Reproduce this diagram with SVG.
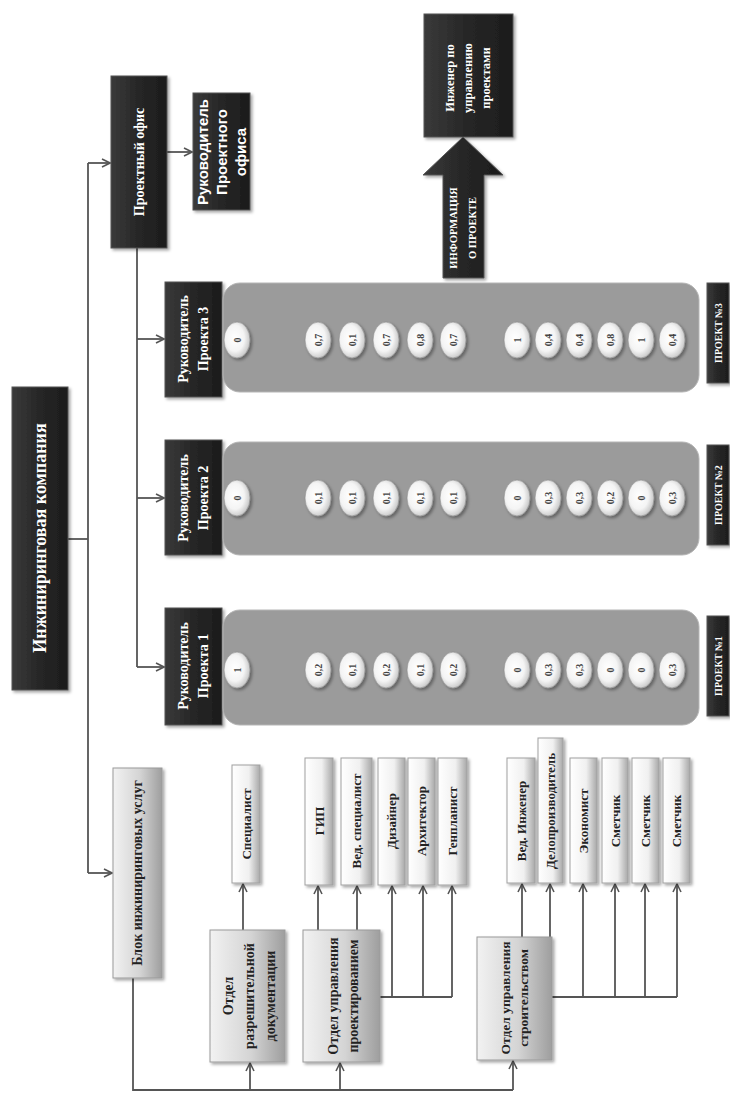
<svg xmlns="http://www.w3.org/2000/svg" width="730" height="1093" viewBox="0 0 730 1093">
<style>
.dark{fill:url(#gDark);stroke:#555;stroke-width:1}
.light{fill:url(#gLight);stroke:#9a9a9a;stroke-width:1}
.bar{fill:url(#gBar);stroke:#a0a0a0;stroke-width:1}
.panel{fill:#9b9b9b;stroke:#b5b5b5;stroke-width:1}
.oval{fill:url(#gOval);stroke:#8a8a8a;stroke-width:0.6}
.tw{fill:#fff;font-family:"Liberation Serif",serif;font-weight:bold;text-anchor:middle}
.tb{fill:#222;font-family:"Liberation Serif",serif;font-weight:bold;text-anchor:middle}
.to{fill:#444;font-family:"Liberation Serif",serif;font-weight:bold;font-size:10px;text-anchor:middle}
.ts{fill:#fff;font-family:"Liberation Sans",Arial,sans-serif;font-weight:bold;text-anchor:middle}
.ln{fill:none;stroke:#555;stroke-width:1.8}
.ar{fill:none;stroke:#555;stroke-width:1.8;marker-end:url(#arr)}
</style>
<defs>
<linearGradient id="gDark" x1="0" y1="0" x2="1" y2="0">
<stop offset="0" stop-color="#3a3a3a"/><stop offset="0.5" stop-color="#262626"/><stop offset="1" stop-color="#1c1c1c"/>
</linearGradient>
<linearGradient id="gLight" x1="0" y1="0" x2="1" y2="0">
<stop offset="0" stop-color="#f2f2f2"/><stop offset="0.55" stop-color="#d4d4d4"/><stop offset="1" stop-color="#9e9e9e"/>
</linearGradient>
<linearGradient id="gBar" x1="0" y1="0" x2="1" y2="0">
<stop offset="0" stop-color="#ffffff"/><stop offset="0.6" stop-color="#f0f0f0"/><stop offset="1" stop-color="#a8a8a8"/>
</linearGradient>
<radialGradient id="gOval" cx="0.42" cy="0.45" r="0.6">
<stop offset="0" stop-color="#ffffff"/><stop offset="0.6" stop-color="#f4f4f4"/><stop offset="1" stop-color="#c4c4c4"/>
</radialGradient>
<filter id="sh" x="-20%" y="-20%" width="140%" height="140%">
<feDropShadow dx="2" dy="2" stdDeviation="1.5" flood-color="#000" flood-opacity="0.35"/>
</filter>
<marker id="arr" viewBox="0 0 10 10" refX="9" refY="5" markerWidth="10" markerHeight="10" markerUnits="userSpaceOnUse" orient="auto">
<path d="M1,1 L9,5 L1,9" fill="none" stroke="#555" stroke-width="1.6"/>
</marker>
</defs>

<g id="connectors">
<path class="ln" d="M68,539 H88"/>
<path class="ln" d="M88,163 V873"/>
<path class="ar" d="M88,163 H110"/>
<path class="ar" d="M88,873 H112"/>
<path class="ar" d="M167,152 H192"/>
<path class="ln" d="M137,248 V667"/>
<path class="ar" d="M137,339 H164"/>
<path class="ar" d="M137,498 H164"/>
<path class="ar" d="M137,667 H164"/>
<path class="ln" d="M133,978 V1090 H513"/>
<path class="ar" d="M250,1090 V1063"/>
<path class="ar" d="M340,1090 V1063"/>
<path class="ar" d="M513,1090 V1061"/>
<path class="ar" d="M243,930 V884"/>
<path class="ar" d="M318,930 V886"/>
<path class="ar" d="M357,930 V886"/>
<path class="ln" d="M380,997 H452"/>
<path class="ar" d="M392,997 V886"/>
<path class="ar" d="M423,997 V886"/>
<path class="ar" d="M452,997 V886"/>
<path class="ar" d="M522,937 V884"/>
<path class="ar" d="M550,937 V884"/>
<path class="ln" d="M552,997 H677"/>
<path class="ar" d="M583,997 V884"/>
<path class="ar" d="M615,997 V884"/>
<path class="ar" d="M645,997 V884"/>
<path class="ar" d="M677,997 V884"/>
</g>

<g id="n-company"><rect class="dark" filter="url(#sh)" x="12" y="387" width="56" height="303"/>
<text class="tw" font-size="18" transform="translate(40,538) rotate(-90)"><tspan x="0" y="6">Инжиниринговая компания</tspan></text></g>

<g id="n-office"><rect class="dark" filter="url(#sh)" x="111" y="76" width="56" height="172"/>
<text class="tw" font-size="14" transform="translate(139,162) rotate(-90)"><tspan x="0" y="5">Проектный офис</tspan></text></g>

<g id="n-office-head"><rect class="dark" filter="url(#sh)" x="193" y="93" width="57" height="117"/>
<text class="ts" font-size="15" transform="translate(222,152) rotate(-90)"><tspan x="0" y="-14">Руководитель</tspan><tspan x="0" y="5">Проектного</tspan><tspan x="0" y="24">офиса</tspan></text></g>

<g id="n-engineer"><rect class="dark" filter="url(#sh)" x="424" y="14" width="89" height="123"/>
<text class="tw" font-size="12.5" transform="translate(468,78) rotate(-90)"><tspan x="0" y="-14">Инженер по</tspan><tspan x="0" y="4">управлению</tspan><tspan x="0" y="22">проектами</tspan></text></g>

<g id="n-info"><polygon fill="url(#gDark)" stroke="#555" filter="url(#sh)" points="443,278 443,175 423,175 463,137 503,175 484,175 484,278"/>
<text class="tw" font-size="10.5" transform="translate(463,228) rotate(-90)"><tspan x="0" y="-6">ИНФОРМАЦИЯ</tspan><tspan x="0" y="13">О ПРОЕКТЕ</tspan></text></g>

<g id="n-pm3"><rect class="dark" filter="url(#sh)" x="165" y="282" width="57" height="115"/>
<text class="tw" font-size="14" transform="translate(193,339) rotate(-90)"><tspan x="0" y="-5">Руководитель</tspan><tspan x="0" y="15">Проекта 3</tspan></text></g>
<g id="n-pm2"><rect class="dark" filter="url(#sh)" x="165" y="440" width="57" height="115"/>
<text class="tw" font-size="14" transform="translate(193,498) rotate(-90)"><tspan x="0" y="-5">Руководитель</tspan><tspan x="0" y="15">Проекта 2</tspan></text></g>
<g id="n-pm1"><rect class="dark" filter="url(#sh)" x="165" y="608" width="57" height="117"/>
<text class="tw" font-size="14" transform="translate(193,666) rotate(-90)"><tspan x="0" y="-5">Руководитель</tspan><tspan x="0" y="15">Проекта 1</tspan></text></g>

<g id="n-panel3"><rect class="panel" x="223" y="283" width="476" height="109" rx="17"/></g>
<g id="n-panel2"><rect class="panel" x="223" y="442" width="476" height="113" rx="17"/></g>
<g id="n-panel1"><rect class="panel" x="223" y="610" width="476" height="115" rx="17"/></g>

<g id="n-p3-labels"><rect class="dark" filter="url(#sh)" x="707" y="283" width="22" height="100"/>
<text class="tw" font-size="10" transform="translate(718,333) rotate(-90)"><tspan x="0" y="4">ПРОЕКТ №3</tspan></text></g>
<g id="n-p2-labels"><rect class="dark" filter="url(#sh)" x="707" y="445" width="22" height="100"/>
<text class="tw" font-size="10" transform="translate(718,495) rotate(-90)"><tspan x="0" y="4">ПРОЕКТ №2</tspan></text></g>
<g id="n-p1-labels"><rect class="dark" filter="url(#sh)" x="707" y="616" width="22" height="100"/>
<text class="tw" font-size="10" transform="translate(718,666) rotate(-90)"><tspan x="0" y="4">ПРОЕКТ №1</tspan></text></g>

<g id="n-ovals3" filter="url(#sh)">
<ellipse class="oval" cx="237" cy="340" rx="13" ry="18"/><ellipse class="oval" cx="318" cy="340" rx="13" ry="18"/><ellipse class="oval" cx="352" cy="340" rx="13" ry="18"/><ellipse class="oval" cx="386" cy="340" rx="13" ry="18"/><ellipse class="oval" cx="420" cy="340" rx="13" ry="18"/><ellipse class="oval" cx="453" cy="340" rx="13" ry="18"/>
<ellipse class="oval" cx="517" cy="340" rx="13" ry="18"/><ellipse class="oval" cx="548" cy="340" rx="13" ry="18"/><ellipse class="oval" cx="579" cy="340" rx="13" ry="18"/><ellipse class="oval" cx="610" cy="340" rx="13" ry="18"/><ellipse class="oval" cx="641" cy="340" rx="13" ry="18"/><ellipse class="oval" cx="672" cy="340" rx="13" ry="18"/>
</g>
<g id="n-ovals3-text">
<text class="to" transform="translate(237,340) rotate(-90)" y="3.5">0</text><text class="to" transform="translate(318,340) rotate(-90)" y="3.5">0,7</text><text class="to" transform="translate(352,340) rotate(-90)" y="3.5">0,1</text><text class="to" transform="translate(386,340) rotate(-90)" y="3.5">0,7</text><text class="to" transform="translate(420,340) rotate(-90)" y="3.5">0,8</text><text class="to" transform="translate(453,340) rotate(-90)" y="3.5">0,7</text>
<text class="to" transform="translate(517,340) rotate(-90)" y="3.5">1</text><text class="to" transform="translate(548,340) rotate(-90)" y="3.5">0,4</text><text class="to" transform="translate(579,340) rotate(-90)" y="3.5">0,4</text><text class="to" transform="translate(610,340) rotate(-90)" y="3.5">0,8</text><text class="to" transform="translate(641,340) rotate(-90)" y="3.5">1</text><text class="to" transform="translate(672,340) rotate(-90)" y="3.5">0,4</text>
</g>

<g id="n-ovals2" filter="url(#sh)">
<ellipse class="oval" cx="237" cy="498" rx="13" ry="18"/><ellipse class="oval" cx="318" cy="498" rx="13" ry="18"/><ellipse class="oval" cx="352" cy="498" rx="13" ry="18"/><ellipse class="oval" cx="386" cy="498" rx="13" ry="18"/><ellipse class="oval" cx="420" cy="498" rx="13" ry="18"/><ellipse class="oval" cx="453" cy="498" rx="13" ry="18"/>
<ellipse class="oval" cx="517" cy="498" rx="13" ry="18"/><ellipse class="oval" cx="548" cy="498" rx="13" ry="18"/><ellipse class="oval" cx="579" cy="498" rx="13" ry="18"/><ellipse class="oval" cx="610" cy="498" rx="13" ry="18"/><ellipse class="oval" cx="641" cy="498" rx="13" ry="18"/><ellipse class="oval" cx="672" cy="498" rx="13" ry="18"/>
</g>
<g id="n-ovals2-text">
<text class="to" transform="translate(237,498) rotate(-90)" y="3.5">0</text><text class="to" transform="translate(318,498) rotate(-90)" y="3.5">0,1</text><text class="to" transform="translate(352,498) rotate(-90)" y="3.5">0,1</text><text class="to" transform="translate(386,498) rotate(-90)" y="3.5">0,1</text><text class="to" transform="translate(420,498) rotate(-90)" y="3.5">0,1</text><text class="to" transform="translate(453,498) rotate(-90)" y="3.5">0,1</text>
<text class="to" transform="translate(517,498) rotate(-90)" y="3.5">0</text><text class="to" transform="translate(548,498) rotate(-90)" y="3.5">0,3</text><text class="to" transform="translate(579,498) rotate(-90)" y="3.5">0,3</text><text class="to" transform="translate(610,498) rotate(-90)" y="3.5">0,2</text><text class="to" transform="translate(641,498) rotate(-90)" y="3.5">0</text><text class="to" transform="translate(672,498) rotate(-90)" y="3.5">0,3</text>
</g>

<g id="n-ovals1" filter="url(#sh)">
<ellipse class="oval" cx="237" cy="670" rx="13" ry="18"/><ellipse class="oval" cx="318" cy="670" rx="13" ry="18"/><ellipse class="oval" cx="352" cy="670" rx="13" ry="18"/><ellipse class="oval" cx="386" cy="670" rx="13" ry="18"/><ellipse class="oval" cx="420" cy="670" rx="13" ry="18"/><ellipse class="oval" cx="453" cy="670" rx="13" ry="18"/>
<ellipse class="oval" cx="517" cy="670" rx="13" ry="18"/><ellipse class="oval" cx="548" cy="670" rx="13" ry="18"/><ellipse class="oval" cx="579" cy="670" rx="13" ry="18"/><ellipse class="oval" cx="610" cy="670" rx="13" ry="18"/><ellipse class="oval" cx="641" cy="670" rx="13" ry="18"/><ellipse class="oval" cx="672" cy="670" rx="13" ry="18"/>
</g>
<g id="n-ovals1-text">
<text class="to" transform="translate(237,670) rotate(-90)" y="3.5">1</text><text class="to" transform="translate(318,670) rotate(-90)" y="3.5">0,2</text><text class="to" transform="translate(352,670) rotate(-90)" y="3.5">0,1</text><text class="to" transform="translate(386,670) rotate(-90)" y="3.5">0,2</text><text class="to" transform="translate(420,670) rotate(-90)" y="3.5">0,1</text><text class="to" transform="translate(453,670) rotate(-90)" y="3.5">0,2</text>
<text class="to" transform="translate(517,670) rotate(-90)" y="3.5">0</text><text class="to" transform="translate(548,670) rotate(-90)" y="3.5">0,3</text><text class="to" transform="translate(579,670) rotate(-90)" y="3.5">0,3</text><text class="to" transform="translate(610,670) rotate(-90)" y="3.5">0</text><text class="to" transform="translate(641,670) rotate(-90)" y="3.5">0</text><text class="to" transform="translate(672,670) rotate(-90)" y="3.5">0,3</text>
</g>

<g id="n-block"><rect class="light" filter="url(#sh)" x="113" y="768" width="49" height="210"/>
<text class="tb" font-size="14" transform="translate(137,873) rotate(-90)"><tspan x="0" y="5">Блок инжиниринговых услуг</tspan></text></g>

<g id="n-dept-permit"><rect class="light" filter="url(#sh)" x="210" y="930" width="75" height="132"/>
<text class="tb" font-size="14" transform="translate(249,996) rotate(-90)"><tspan x="0" y="-16">Отдел</tspan><tspan x="0" y="5">разрешительной</tspan><tspan x="0" y="26">документации</tspan></text></g>

<g id="n-dept-design"><rect class="light" filter="url(#sh)" x="303" y="930" width="77" height="132"/>
<text class="tb" font-size="14" transform="translate(343,996) rotate(-90)"><tspan x="0" y="-5">Отдел управления</tspan><tspan x="0" y="15">проектированием</tspan></text></g>

<g id="n-dept-constr"><rect class="light" filter="url(#sh)" x="477" y="937" width="75" height="123"/>
<text class="tb" font-size="13.5" transform="translate(514,998) rotate(-90)"><tspan x="0" y="-4">Отдел управления</tspan><tspan x="0" y="14">строительством</tspan></text></g>

<g id="n-spec"><rect class="bar" filter="url(#sh)" x="232" y="765" width="28" height="118"/>
<text class="tb" font-size="13" transform="translate(246,824) rotate(-90)"><tspan x="0" y="4.5">Специалист</tspan></text></g>
<g id="n-gip"><rect class="bar" filter="url(#sh)" x="305" y="758" width="28" height="127"/>
<text class="tb" font-size="13" transform="translate(319,821) rotate(-90)"><tspan x="0" y="4.5">ГИП</tspan></text></g>
<g id="n-lead-spec"><rect class="bar" filter="url(#sh)" x="341" y="758" width="31" height="127"/>
<text class="tb" font-size="13" transform="translate(356,821) rotate(-90)"><tspan x="0" y="4.5">Вед. специалист</tspan></text></g>
<g id="n-designer"><rect class="bar" filter="url(#sh)" x="378" y="758" width="27" height="127"/>
<text class="tb" font-size="13" transform="translate(391,821) rotate(-90)"><tspan x="0" y="4.5">Дизайнер</tspan></text></g>
<g id="n-architect"><rect class="bar" filter="url(#sh)" x="408" y="758" width="27" height="127"/>
<text class="tb" font-size="13" transform="translate(421,821) rotate(-90)"><tspan x="0" y="4.5">Архитектор</tspan></text></g>
<g id="n-genplan"><rect class="bar" filter="url(#sh)" x="438" y="758" width="29" height="127"/>
<text class="tb" font-size="13" transform="translate(452,821) rotate(-90)"><tspan x="0" y="4.5">Генпланист</tspan></text></g>
<g id="n-lead-eng"><rect class="bar" filter="url(#sh)" x="507" y="758" width="28" height="125"/>
<text class="tb" font-size="13" transform="translate(521,821) rotate(-90)"><tspan x="0" y="4.5">Вед. Инженер</tspan></text></g>
<g id="n-clerk"><rect class="bar" filter="url(#sh)" x="538" y="738" width="25" height="145"/>
<text class="tb" font-size="13" transform="translate(550,811) rotate(-90)"><tspan x="0" y="4.5">Делопроизводитель</tspan></text></g>
<g id="n-economist"><rect class="bar" filter="url(#sh)" x="570" y="758" width="27" height="125"/>
<text class="tb" font-size="13" transform="translate(583,821) rotate(-90)"><tspan x="0" y="4.5">Экономист</tspan></text></g>
<g id="n-estim1"><rect class="bar" filter="url(#sh)" x="602" y="758" width="26" height="125"/>
<text class="tb" font-size="13" transform="translate(615,821) rotate(-90)"><tspan x="0" y="4.5">Сметчик</tspan></text></g>
<g id="n-estim2"><rect class="bar" filter="url(#sh)" x="632" y="758" width="27" height="125"/>
<text class="tb" font-size="13" transform="translate(645,821) rotate(-90)"><tspan x="0" y="4.5">Сметчик</tspan></text></g>
<g id="n-estim3"><rect class="bar" filter="url(#sh)" x="663" y="758" width="27" height="125"/>
<text class="tb" font-size="13" transform="translate(676,821) rotate(-90)"><tspan x="0" y="4.5">Сметчик</tspan></text></g>
</svg>
